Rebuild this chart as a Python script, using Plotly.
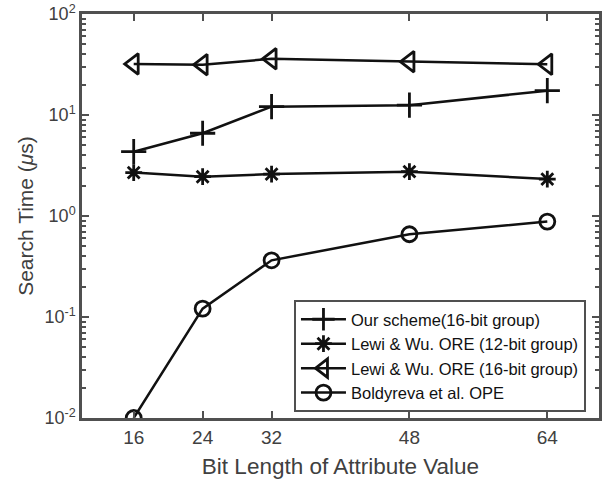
import plotly.graph_objects as go

bits = [16, 24, 32, 48, 64]
our_scheme = [4.33, 6.6, 12.1, 12.5, 17.4]
lewi_12 = [2.69, 2.45, 2.6, 2.75, 2.32]
lewi_16 = [32.0, 31.5, 36.0, 33.7, 31.8]
boldyreva = [0.01, 0.121, 0.364, 0.66, 0.88]

names = ["Our scheme(16-bit group)", "Lewi & Wu. ORE (12-bit group)",
         "Lewi & Wu. ORE (16-bit group)", "Boldyreva et al. OPE"]
series = [our_scheme, lewi_12, lewi_16, boldyreva]
symbols = ["cross-thin-open", "asterisk-open", "triangle-left-open", "circle-open"]
sizes = [18, 14, 18, 15]

ytickvals = [0.01, 0.1, 1, 10, 100]
yticktext = ["10<sup>-2</sup>", "10<sup>-1</sup>", "10<sup>0</sup>", "10<sup>1</sup>", "10<sup>2</sup>"]
minor_vals = [m * 10 ** e for e in range(-2, 2) for m in range(2, 10)]

fig = go.Figure()
for n, s, sym, sz in zip(names, series, symbols, sizes):
    fig.add_trace(go.Scatter(
        x=bits, y=s, name=n, mode="lines+markers",
        line=dict(color="#111111", width=2.5),
        marker=dict(symbol=sym, size=sz, color="#111111",
                    line=dict(color="#111111", width=2.8)),
    ))

axis_color = "#505050"
fig.update_layout(
    width=612, height=482,
    margin=dict(l=82, r=13, t=14, b=64),
    paper_bgcolor="white", plot_bgcolor="white",
    font=dict(family="Liberation Sans, Arial, sans-serif", color="#404040"),
    showlegend=True,
    legend=dict(x=0.41, y=0.292, xanchor="left", yanchor="top",
                bgcolor="white", bordercolor=axis_color, borderwidth=2,
                font=dict(size=16.5, color="#111111"), itemwidth=45,
                tracegroupgap=0),
)
fig.update_xaxes(
    range=[10, 70], tickvals=bits, ticktext=[str(b) for b in bits],
    ticks="inside", ticklen=7, tickwidth=2, tickcolor=axis_color,
    showline=True, linecolor=axis_color, linewidth=2.5, mirror="ticks",
    showgrid=False, zeroline=False, automargin=False,
    tickfont=dict(size=19, color="#404040"),
    title=dict(text="Bit Length of Attribute Value", font=dict(size=22.5, color="#404040"), standoff=12),
)
fig.update_yaxes(
    type="log", range=[-2, 2], tickvals=ytickvals, ticktext=yticktext,
    ticks="inside", ticklen=7, tickwidth=2, tickcolor=axis_color,
    minor=dict(tickvals=minor_vals, ticks="inside", ticklen=4, tickwidth=2,
               tickcolor=axis_color, showgrid=False),
    showline=True, linecolor=axis_color, linewidth=2.5, mirror="ticks",
    showgrid=False, zeroline=False, automargin=False,
    tickfont=dict(size=18, color="#404040"),
    title=dict(text="Search Time (<i>μ</i>s)", font=dict(size=21, color="#404040"), standoff=6),
)

fig.write_html("out.html", config={"displayModeBar": False},
               post_script="document.body.style.margin='0';document.body.style.overflow='hidden';")
